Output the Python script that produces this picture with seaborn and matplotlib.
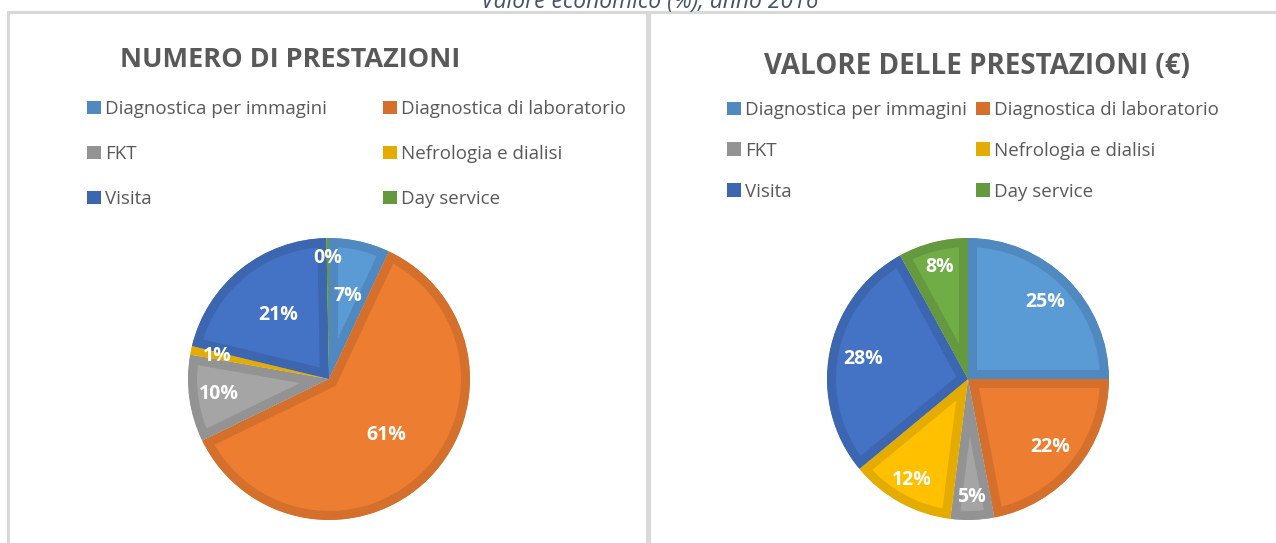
import numpy as np
import matplotlib
matplotlib.use("Agg")
import matplotlib.pyplot as plt
from matplotlib.patches import Rectangle, Patch
import seaborn as sns

categorie = ["Diagnostica per immagini", "Diagnostica di laboratorio", "FKT",
             "Nefrologia e dialisi", "Visita", "Day service"]
numero_prestazioni = [7, 61, 10, 1, 21, 0.3]
etichette_numero = ["7%", "61%", "10%", "1%", "21%", "0%"]
valore_prestazioni = [25, 22, 5, 12, 28, 8]
etichette_valore = ["25%", "22%", "5%", "12%", "28%", "8%"]

colori = ["#5B9BD5", "#ED7D31", "#A5A5A5", "#FFC000", "#4472C4", "#70AD47"]
bordi = ["#4F89C0", "#D46F2C", "#939393", "#E5AC00", "#3C66B0", "#64993F"]

sns.set_theme(style="white")
plt.rcParams['font.family'] = ['Open Sans', 'DejaVu Sans']

W, H = 1276, 543
fig = plt.figure(figsize=(W / 100, H / 100), dpi=100)


def fx(x):
    return x / W


def fy(y):
    return 1 - y / H


# cornici dei due pannelli
for x0, x1 in [(8, 647), (649, 1290)]:
    fig.patches.append(Rectangle((fx(x0), fy(600)), fx(x1 - x0), (600 - 11.5) / H,
                                 transform=fig.transFigure, fill=False,
                                 edgecolor="#D9D9D9", linewidth=2.2, zorder=0))

fig.text(fx(650), fy(8), "Valore economico (%), anno 2016", ha="center", va="baseline",
         fontsize=16.5, style="italic", color="#44546A")


def torta(cx, cy, valori, etichette, dist, titolo, tx, ty, tsize, col_x, leg_y, spazio):
    r = 141
    ax = fig.add_axes([fx(cx - r), fy(cy + r), fx(2 * r), 2 * r / H])
    wedges, _ = ax.pie(valori, colors=colori, startangle=90, counterclock=False,
                       radius=1.0, wedgeprops=dict(linewidth=0))
    # bordo interno più scuro, come in Excel: tratto ritagliato sullo spicchio
    for w, ec in zip(wedges, bordi):
        w.set_edgecolor(ec)
        w.set_linewidth(13)
        w.set_clip_on(True)
        w.set_clip_path(w)
    for w, lab, d in zip(wedges, etichette, dist):
        ang = np.deg2rad((w.theta1 + w.theta2) / 2)
        ax.text(d * np.cos(ang), d * np.sin(ang), lab, ha="center", va="center",
                color="white", fontsize=14, fontweight="bold")
    ax.set_xlim(-1, 1)
    ax.set_ylim(-1, 1)
    ax.set_aspect("equal")
    ax.axis("off")

    fig.text(fx(tx), fy(ty), titolo, ha="center", va="center", fontsize=tsize,
             fontweight="bold", color="#595959")
    # legenda su due colonne, riempita per righe
    for k, x in enumerate(col_x):
        idx = [k, k + 2, k + 4]
        handles = [Patch(facecolor=bordi[i], edgecolor="none") for i in idx]
        fig.legend(handles, [categorie[i] for i in idx], loc="upper left",
                   bbox_to_anchor=(fx(x), fy(leg_y)), frameon=False,
                   fontsize=13.5, labelcolor="#595959", handlelength=0.75,
                   handleheight=0.75, handletextpad=0.2, labelspacing=spazio,
                   borderpad=0, borderaxespad=0)


torta(329, 379, numero_prestazioni, etichette_numero,
      [0.6, 0.57, 0.79, 0.81, 0.58, 0.86],
      "NUMERO DI PRESTAZIONI", 290, 60, 19.5, [87, 383], 100, 1.44)
torta(968, 379, valore_prestazioni, etichette_valore,
      [0.77, 0.76, 0.84, 0.82, 0.76, 0.82],
      "VALORE DELLE PRESTAZIONI (€)", 977, 66, 20, [727, 976], 101, 1.22)

fig.savefig("out.png", dpi=100)
